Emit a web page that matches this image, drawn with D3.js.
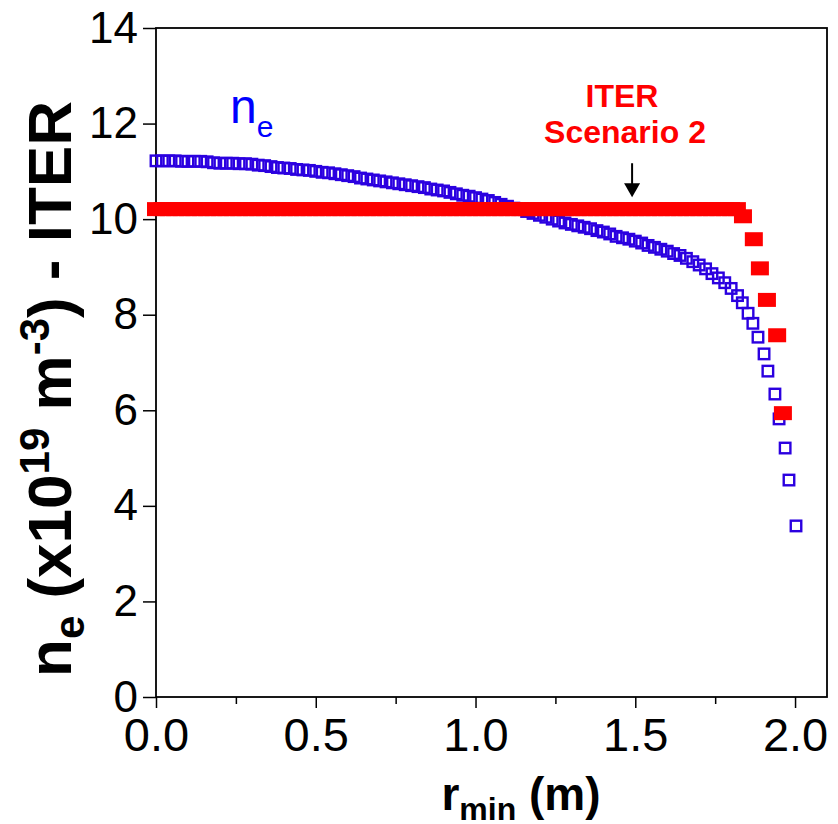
<!DOCTYPE html>
<html lang="en">
<head>
    <meta charset="utf-8" />
    <title>ne profile - ITER</title>
    <script src="https://d3js.org/d3.v7.min.js"></script>
    <style>
        body { margin: 0; background: #fff; }
        text { font-family: "Liberation Sans", Arial, sans-serif; }
    </style>
</head>
<body>
    <svg id="chart" width="838" height="824"></svg>
    <script>
        // blue open squares: measured n_e profile
        const blueR = [0.00, 0.02, 0.04, 0.06, 0.08, 0.10, 0.12, 0.14, 0.16, 0.18,
            0.20, 0.22, 0.24, 0.26, 0.28, 0.30, 0.32, 0.34, 0.36, 0.38,
            0.40, 0.42, 0.44, 0.46, 0.48, 0.50, 0.52, 0.54, 0.56, 0.58,
            0.60, 0.62, 0.64, 0.66, 0.68, 0.70, 0.72, 0.74, 0.76, 0.78,
            0.80, 0.82, 0.84, 0.86, 0.88, 0.90, 0.92, 0.94, 0.96, 0.98,
            1.00, 1.02, 1.04, 1.06, 1.08, 1.10, 1.12, 1.14, 1.16, 1.18,
            1.20, 1.22, 1.24, 1.26, 1.28, 1.30, 1.32, 1.34, 1.36, 1.38,
            1.40, 1.42, 1.44, 1.46, 1.48, 1.50, 1.52, 1.54, 1.56, 1.58,
            1.60, 1.62, 1.64, 1.66, 1.68, 1.70, 1.72, 1.74, 1.76, 1.78,
            1.80, 1.82, 1.835, 1.853, 1.868, 1.884, 1.903, 1.915, 1.937, 1.950,
            1.969, 1.981, 2.003];
        const blueNe = [11.22, 11.22, 11.22, 11.22, 11.21, 11.21, 11.21, 11.21, 11.20, 11.18,
            11.17, 11.17, 11.17, 11.16, 11.16, 11.15, 11.13, 11.12, 11.10, 11.08,
            11.07, 11.06, 11.04, 11.03, 11.02, 11.00, 10.98, 10.97, 10.95, 10.93,
            10.91, 10.89, 10.86, 10.84, 10.82, 10.80, 10.78, 10.76, 10.74, 10.72,
            10.70, 10.68, 10.66, 10.63, 10.61, 10.59, 10.56, 10.53, 10.50, 10.48,
            10.45, 10.42, 10.39, 10.35, 10.31, 10.27, 10.23, 10.20, 10.16, 10.12,
            10.08, 10.04, 10.00, 9.96, 9.92, 9.89, 9.86, 9.83, 9.80, 9.76,
            9.73, 9.69, 9.64, 9.61, 9.58, 9.54, 9.50, 9.45, 9.41, 9.37,
            9.33, 9.28, 9.24, 9.18, 9.11, 9.04, 8.96, 8.86, 8.77, 8.67,
            8.55, 8.40, 8.25, 8.03, 7.82, 7.53, 7.18, 6.82, 6.34, 5.82,
            5.21, 4.54, 3.58];

        // red filled squares: ITER scenario 2
        const redR = [0.00, 0.02, 0.04, 0.06, 0.08, 0.10, 0.12, 0.14, 0.16, 0.18,
            0.20, 0.22, 0.24, 0.26, 0.28, 0.30, 0.32, 0.34, 0.36, 0.38,
            0.40, 0.42, 0.44, 0.46, 0.48, 0.50, 0.52, 0.54, 0.56, 0.58,
            0.60, 0.62, 0.64, 0.66, 0.68, 0.70, 0.72, 0.74, 0.76, 0.78,
            0.80, 0.82, 0.84, 0.86, 0.88, 0.90, 0.92, 0.94, 0.96, 0.98,
            1.00, 1.02, 1.04, 1.06, 1.08, 1.10, 1.12, 1.14, 1.16, 1.18,
            1.20, 1.22, 1.24, 1.26, 1.28, 1.30, 1.32, 1.34, 1.36, 1.38,
            1.40, 1.42, 1.44, 1.46, 1.48, 1.50, 1.52, 1.54, 1.56, 1.58,
            1.60, 1.62, 1.64, 1.66, 1.68, 1.70, 1.72, 1.74, 1.76, 1.78,
            1.80, 1.818, 1.837, 1.871, 1.890, 1.912, 1.944, 1.962];
        const redNe = [10.21, 10.21, 10.21, 10.21, 10.21, 10.21, 10.21, 10.21, 10.21, 10.21,
            10.21, 10.21, 10.21, 10.21, 10.21, 10.21, 10.21, 10.21, 10.21, 10.21,
            10.21, 10.21, 10.21, 10.21, 10.21, 10.21, 10.21, 10.21, 10.21, 10.21,
            10.21, 10.21, 10.21, 10.21, 10.21, 10.21, 10.21, 10.21, 10.21, 10.21,
            10.21, 10.21, 10.21, 10.21, 10.21, 10.21, 10.21, 10.21, 10.21, 10.21,
            10.21, 10.21, 10.21, 10.21, 10.21, 10.21, 10.21, 10.21, 10.21, 10.21,
            10.21, 10.21, 10.21, 10.21, 10.21, 10.21, 10.21, 10.21, 10.21, 10.21,
            10.21, 10.21, 10.21, 10.21, 10.21, 10.21, 10.21, 10.21, 10.21, 10.21,
            10.21, 10.21, 10.21, 10.21, 10.21, 10.21, 10.21, 10.21, 10.21, 10.21,
            10.21, 10.21, 10.06, 9.58, 8.97, 8.31, 7.57, 5.94];

        const xTicks = [0, 0.5, 1.0, 1.5, 2.0];
        const xMinorTicks = [0.25, 0.75, 1.25, 1.75];
        const yTicks = [0, 2, 4, 6, 8, 10, 12, 14];

        // arrow pointing at the ITER profile
        const arrowR = 1.49;
        const arrowFrom = 11.17;
        const arrowTo = 10.46;

        const svg = d3.select("#chart");
        const plotL = 156, plotR = 827, plotT = 28, plotB = 697;

        const x = d3.scaleLinear().domain([0, 2.1]).range([plotL, plotR]);
        const y = d3.scaleLinear().domain([0, 14]).range([plotB, plotT]);

        // x axis, major + minor ticks
        const xAxis = svg.append("g")
            .attr("transform", "translate(0," + plotB + ")")
            .call(d3.axisBottom(x).tickValues(xTicks).tickFormat(d3.format(".1f"))
                .tickSize(11).tickSizeOuter(0).tickPadding(10));
        xAxis.append("g")
            .call(d3.axisBottom(x).tickValues(xMinorTicks).tickFormat("")
                .tickSize(7).tickSizeOuter(0));
        xAxis.selectAll(".domain").remove();
        xAxis.selectAll("text")
            .attr("font-size", 47)
            .attr("fill", "#000");

        const yAxis = svg.append("g")
            .attr("transform", "translate(" + plotL + ",0)")
            .call(d3.axisLeft(y).tickValues(yTicks).tickSize(13).tickSizeOuter(0).tickPadding(5));
        yAxis.selectAll(".domain").remove();
        yAxis.selectAll("text")
            .attr("font-size", 44)
            .attr("fill", "#000");
        svg.selectAll(".tick line").attr("stroke", "#000").attr("stroke-width", 1.5);

        // frame
        svg.append("rect")
            .attr("x", plotL).attr("y", plotT)
            .attr("width", plotR - plotL).attr("height", plotB - plotT)
            .attr("fill", "none").attr("stroke", "#000").attr("stroke-width", 1.8);

        // blue profile
        const blue = blueR.map((r, i) => ({ r: r, v: blueNe[i] }));
        const sq = 10.5;
        svg.append("g").selectAll("rect")
            .data(blue)
            .enter()
            .append("rect")
            .attr("x", d => x(d.r) - sq / 2)
            .attr("y", d => y(d.v) - sq / 2)
            .attr("width", sq)
            .attr("height", sq)
            .attr("fill", "none")
            .attr("stroke", "#2b00e0")
            .attr("stroke-width", 2.4);

        // red profile
        const red = redR.map((r, i) => ({ r: r, v: redNe[i] }));
        svg.append("g").selectAll("rect")
            .data(red)
            .enter()
            .append("rect")
            .attr("x", d => x(d.r) - 9)
            .attr("y", d => y(d.v) - 7)
            .attr("width", 18)
            .attr("height", 14)
            .attr("fill", "#ff0000");

        // n_e annotation
        const ne = svg.append("text")
            .attr("x", 230).attr("y", 123)
            .attr("fill", "#0000ff")
            .attr("font-size", 48);
        ne.append("tspan").text("n");
        ne.append("tspan").attr("dy", 14).attr("font-size", 30).text("e");

        // ITER annotation
        svg.append("text")
            .attr("x", 622).attr("y", 107)
            .attr("text-anchor", "middle")
            .attr("font-size", 32).attr("font-weight", "bold")
            .attr("fill", "#ff0000")
            .text("ITER");
        svg.append("text")
            .attr("x", 625).attr("y", 143)
            .attr("text-anchor", "middle")
            .attr("font-size", 32).attr("font-weight", "bold")
            .attr("fill", "#ff0000")
            .text("Scenario 2");

        // arrow
        svg.append("line")
            .attr("x1", x(arrowR)).attr("x2", x(arrowR))
            .attr("y1", y(arrowFrom)).attr("y2", y(arrowTo) - 10)
            .attr("stroke", "#000").attr("stroke-width", 2);
        svg.append("path")
            .attr("d", "M" + (x(arrowR) - 8) + "," + (y(arrowTo) - 14) +
                "L" + (x(arrowR) + 8) + "," + (y(arrowTo) - 14) +
                "L" + x(arrowR) + "," + y(arrowTo) + "Z")
            .attr("fill", "#000");

        // x axis title
        const xt = svg.append("text")
            .attr("x", 521).attr("y", 810)
            .attr("text-anchor", "middle")
            .attr("font-size", 46).attr("font-weight", "bold");
        xt.append("tspan").text("r");
        xt.append("tspan").attr("dy", 10).attr("font-size", 32).text("min");
        xt.append("tspan").attr("dy", -10).text(" (m)");

        // y axis title
        const yt = svg.append("text")
            .attr("transform", "translate(71,389) rotate(-90)")
            .attr("text-anchor", "middle")
            .attr("font-size", 62).attr("font-weight", "bold");
        yt.append("tspan").text("n");
        yt.append("tspan").attr("dy", 13).attr("font-size", 42).text("e");
        yt.append("tspan").attr("dy", -13).text(" (x10");
        yt.append("tspan").attr("dy", -22).attr("font-size", 42).text("19");
        yt.append("tspan").attr("dy", 22).text(" m");
        yt.append("tspan").attr("dy", -22).attr("font-size", 42).text("-3");
        yt.append("tspan").attr("dy", 22).text(") - ITER");
    </script>
</body>
</html>
